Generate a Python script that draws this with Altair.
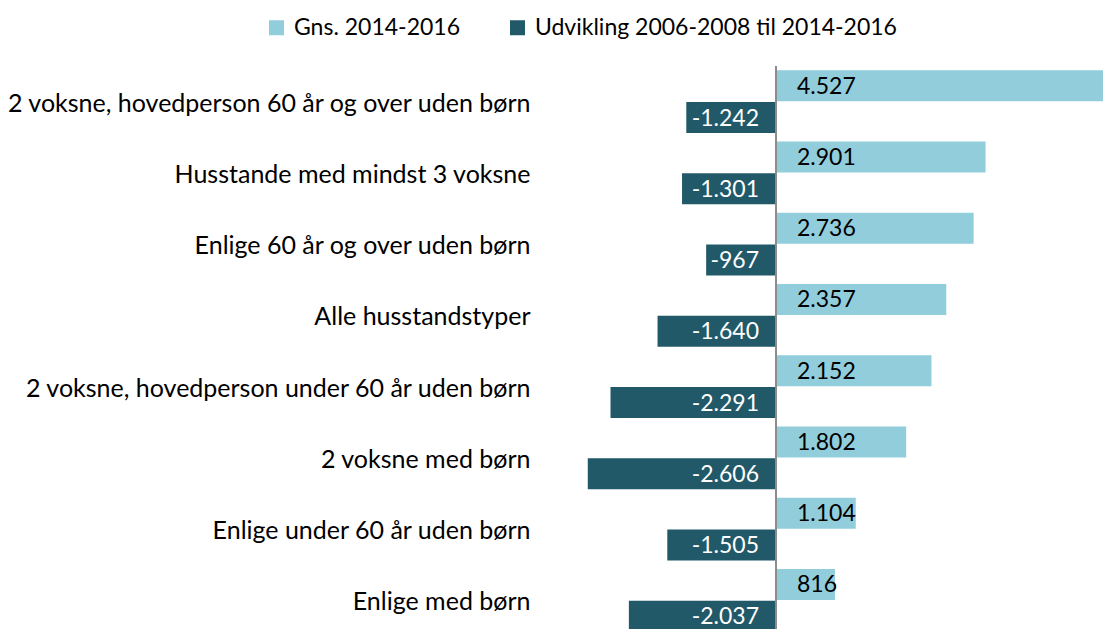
import altair as alt
import pandas as pd

# Household types, top to bottom
categories = [
    "2 voksne, hovedperson 60 år og over uden børn",
    "Husstande med mindst 3 voksne",
    "Enlige 60 år og over uden børn",
    "Alle husstandstyper",
    "2 voksne, hovedperson under 60 år uden børn",
    "2 voksne med børn",
    "Enlige under 60 år uden børn",
    "Enlige med børn",
]

series_names = ["Gns. 2014-2016", "Udvikling 2006-2008 til 2014-2016"]
series_colors = ["#92CDDC", "#215968"]

avg_2014_2016 = [4527, 2901, 2736, 2357, 2152, 1802, 1104, 816]
change_2006_2016 = [-1242, -1301, -967, -1640, -2291, -2606, -1505, -2037]

FONT = "Lato"
FS = 23
CAT_FS = 25


def fmt(v):
    # Danish thousands separator
    return f"{v:,}".replace(",", ".")


rows = []
for cat, a, c in zip(categories, avg_2014_2016, change_2006_2016):
    rows.append({"cat": cat, "series": series_names[0], "value": a, "label": fmt(a)})
    rows.append({"cat": cat, "series": series_names[1], "value": c, "label": fmt(c)})
df = pd.DataFrame(rows)

PLOT_LEFT = 538
PLOT_TOP = 66
W = 1103 - PLOT_LEFT
H = 570

x_scale = alt.Scale(domain=[-3295, 4527], nice=False, zero=False)
y_axis = alt.Axis(
    title=None,
    ticks=False,
    domain=False,
    grid=False,
    labelPadding=8,
    labelLimit=0,
    labelFont=FONT,
    labelFontSize=CAT_FS,
    labelColor="#000000",
    labelBaseline="middle",
    labelOffset=2,
)
y_enc = alt.Y(
    "cat:N",
    sort=categories,
    scale=alt.Scale(paddingInner=0.116, paddingOuter=0.058),
    axis=y_axis,
)
yoff_enc = alt.YOffset("series:N", sort=series_names, scale=alt.Scale(paddingInner=0.03))

base = alt.Chart(df)

bars = base.mark_bar().encode(
    x=alt.X("value:Q", scale=x_scale, axis=None),
    y=y_enc,
    yOffset=yoff_enc,
    color=alt.Color(
        "series:N",
        sort=series_names,
        scale=alt.Scale(domain=series_names, range=series_colors),
        legend=alt.Legend(
            title=None,
            orient="none",
            direction="horizontal",
            legendX=265 - PLOT_LEFT,
            legendY=16 - PLOT_TOP,
            symbolType="square",
            symbolSize=225,
            symbolStrokeWidth=0,
            symbolOpacity=1,
            labelFont=FONT,
            labelFontSize=FS,
            labelColor="#000000",
            labelOffset=6,
            columnPadding=46,
            padding=0,
            labelLimit=0,
        ),
    ),
)

labels_pos = base.transform_filter(
    alt.datum.series == series_names[0]
).transform_calculate(zero="0").mark_text(
    align="left", baseline="middle", dx=21, dy=1, font=FONT, fontSize=FS, color="#000000"
).encode(
    x=alt.X("zero:Q", scale=x_scale, axis=None),
    y=y_enc,
    yOffset=yoff_enc,
    text="label:N",
)

labels_neg = base.transform_filter(
    alt.datum.series == series_names[1]
).transform_calculate(zero="0").mark_text(
    align="right", baseline="middle", dx=-17, dy=1, font=FONT, fontSize=FS, color="#FFFFFF"
).encode(
    x=alt.X("zero:Q", scale=x_scale, axis=None),
    y=y_enc,
    yOffset=yoff_enc,
    text="label:N",
)

zero_line = alt.Chart(pd.DataFrame({"zero": [0]})).mark_rule(color="#8C8C8C", strokeWidth=2).encode(
    x=alt.X("zero:Q", scale=x_scale, axis=None)
)

chart = (
    alt.layer(bars, labels_pos, labels_neg, zero_line)
    .properties(
        width=W,
        height=H,
        background="#FFFFFF",
        autosize=alt.AutoSizeParams(type="none"),
        padding={"left": PLOT_LEFT, "top": PLOT_TOP, "right": 0, "bottom": 0},
    )
    .configure_view(strokeWidth=0, stroke=None)
)

chart.save("out.html", embed_options={"renderer": "svg", "actions": False})
